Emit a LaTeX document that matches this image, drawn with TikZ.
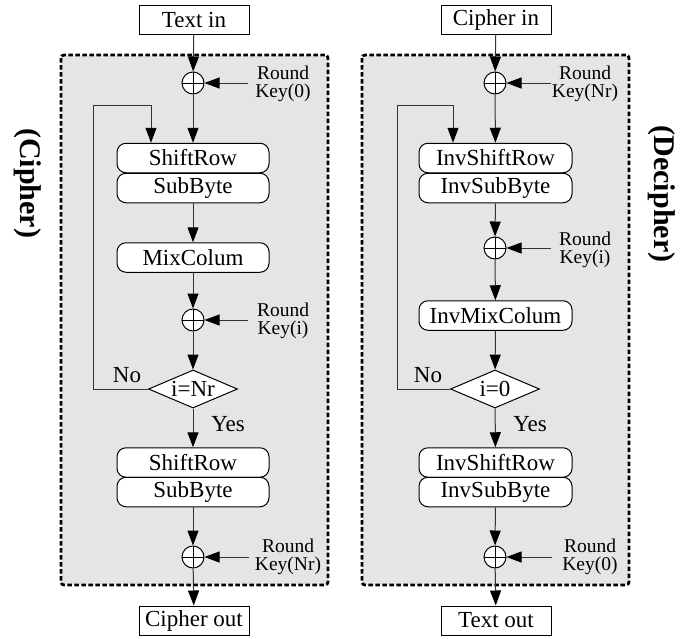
\documentclass[tikz,border=0pt]{standalone}
\usepackage{fontspec}
\setmainfont{Liberation Serif}
\usetikzlibrary{arrows.meta,shapes.geometric}

\begin{document}
\begin{tikzpicture}[x=1pt,y=-1pt,
  every node/.style={inner sep=0pt},
  flow/.style={draw=black!80, line width=1pt,
    -{Triangle[length=15pt,width=11pt,fill=black,color=black]}},
  io/.style={draw, line width=1pt, minimum width=110pt, minimum height=29pt,
    fill=white, font=\fontsize{23}{23}\selectfont},
  stage/.style={draw, line width=1pt, rounded corners=9pt, minimum width=152pt,
    minimum height=29.5pt, fill=white, font=\fontsize{23}{23}\selectfont},
  xor/.style={circle, draw, line width=1pt, minimum size=22pt, fill=white,
    path picture={\draw[line width=1pt]
      (path picture bounding box.north) -- (path picture bounding box.south)
      (path picture bounding box.west) -- (path picture bounding box.east);}},
  test/.style={diamond, draw, line width=1pt, aspect=2.34, minimum width=89pt,
    minimum height=38pt, fill=white, font=\fontsize{23}{23}\selectfont},
  key/.style={align=center, font=\fontsize{19.5}{18}\selectfont},
  lbl/.style={font=\fontsize{23}{23}\selectfont},
  panel/.style={draw, fill=gray!20, line width=2.8pt, dash pattern=on 4.5pt off 2.5pt,
    rounded corners=3pt},
  title/.style={font=\fontsize{30}{30}\selectfont\bfseries, rotate=-90}
]
\useasboundingbox (0,0) rectangle (693,638);

% dashed panels
\path[panel] (61,55) rectangle (328,585);
\path[panel] (362,55) rectangle (629,585);

\node[title] (tc) at (28,183) {(Cipher)};
\node[title] (td) at (662,194) {(Decipher)};

% ---------------- cipher ----------------
\node[io] (tin) at (194,19.5) {Text in};
\node[xor] (x1) at (193,83) {};
\node[stage] (sr1) at (193,158) {ShiftRow};
\node[stage] (sb1) at (193,188) {SubByte};
\node[stage] (mc) at (193,257.5) {MixColum};
\node[xor] (x2) at (193,320) {};
\node[test] (d1) at (193,389) {i=Nr};
\node[stage] (sr2) at (193,462.5) {ShiftRow};
\node[stage] (sb2) at (193,492) {SubByte};
\node[xor] (x3) at (193,557) {};
\node[io] (cout) at (194,620.5) {Cipher out};

\node[key] (k1) at (283,84) {Round\\Key(0)};
\node[key] (k2) at (283,321) {Round\\Key(i)};
\node[key] (k3) at (288,556.5) {Round\\Key(Nr)};
\coordinate (k1s) at (248,83);
\coordinate (k2s) at (248,320);
\coordinate (k3s) at (249,557);

\node[lbl] (no1) at (127,375) {No};
\node[lbl] (yes1) at (228,424) {Yes};

\draw[flow] (tin) -- (x1);
\draw[flow] (x1) -- (sr1);
\draw[flow] (sb1) -- (mc);
\draw[flow] (mc) -- (x2);
\draw[flow] (x2) -- (d1);
\draw[flow] (d1) -- (sr2);
\draw[flow] (sb2) -- (x3);
\draw[flow] (x3) -- (cout);
\draw[flow] (k1s) -- (x1);
\draw[flow] (k2s) -- (x2);
\draw[flow] (k3s) -- (x3);
\coordinate (l1) at (93,105);
\draw[flow] (d1.west) -| (l1) -| ([xshift=-42pt]sr1.north);

% ---------------- decipher ----------------
\node[io] (cin) at (496,19.5) {Cipher in};
\node[xor] (y1) at (495,83) {};
\node[stage, minimum width=153pt] (isr1) at (495.5,158) {InvShiftRow};
\node[stage, minimum width=153pt] (isb1) at (495.5,188) {InvSubByte};
\node[xor] (y2) at (495,248) {};
\node[stage, minimum width=153pt] (imc) at (495.5,315.5) {InvMixColum};
\node[test] (d2) at (495,389) {i=0};
\node[stage, minimum width=153pt] (isr2) at (495.5,462.5) {InvShiftRow};
\node[stage, minimum width=153pt] (isb2) at (495.5,492) {InvSubByte};
\node[xor] (y3) at (495,557) {};
\node[io] (tout) at (496,620.5) {Text out};

\node[key] (j1) at (585,84) {Round\\Key(Nr)};
\node[key] (j2) at (585,250) {Round\\Key(i)};
\node[key] (j3) at (590,556.5) {Round\\Key(0)};
\coordinate (j1s) at (551,83);
\coordinate (j2s) at (551,248);
\coordinate (j3s) at (552,557);

\node[lbl] (no2) at (428,375) {No};
\node[lbl] (yes2) at (530,424) {Yes};

\draw[flow] (cin) -- (y1);
\draw[flow] (y1) -- (isr1);
\draw[flow] (isb1) -- (y2);
\draw[flow] (y2) -- (imc);
\draw[flow] (imc) -- (d2);
\draw[flow] (d2) -- (isr2);
\draw[flow] (isb2) -- (y3);
\draw[flow] (y3) -- (tout);
\draw[flow] (j1s) -- (y1);
\draw[flow] (j2s) -- (y2);
\draw[flow] (j3s) -- (y3);
\coordinate (l2) at (397,105);
\draw[flow] (d2.west) -| (l2) -| ([xshift=-42.5pt]isr1.north);
\end{tikzpicture}
\end{document}
